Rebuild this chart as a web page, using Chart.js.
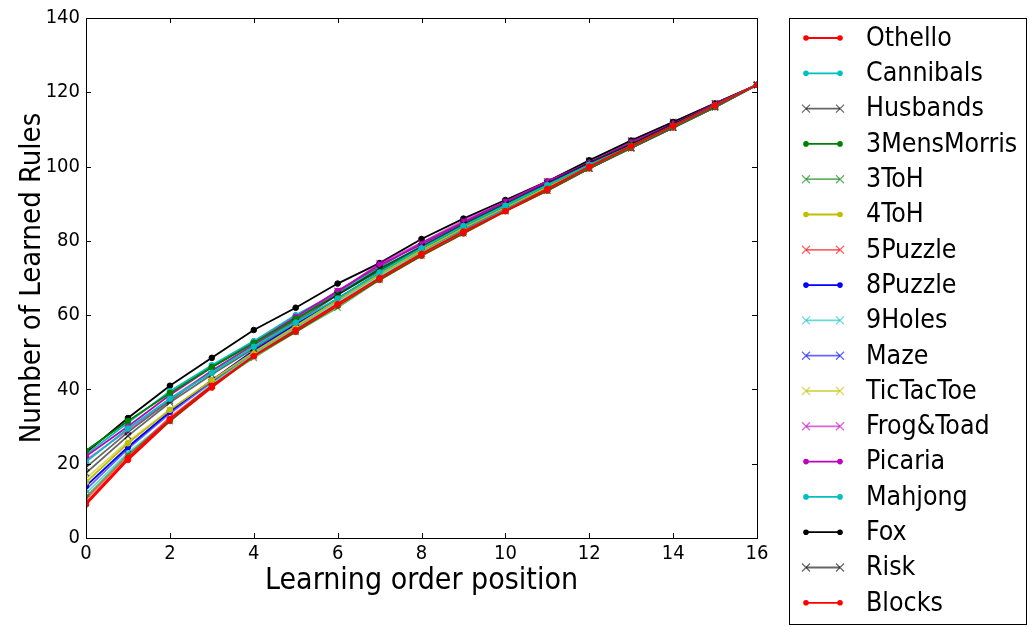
<!DOCTYPE html>
<html>
<head>
<meta charset="utf-8">
<script src="https://cdn.jsdelivr.net/npm/chart.js@4/dist/chart.umd.min.js"></script>
<style>
  html, body { margin: 0; padding: 0; background: #fff; }
  #wrap { width: 1030px; height: 627px; position: relative; }
</style>
</head>
<body>
<div id="wrap"><canvas id="chart" width="1030" height="627"></canvas></div>
<script>
// learning order positions (x axis)
const positions = [0, 1, 2, 3, 4, 5, 6, 7, 8, 9, 10, 11, 12, 13, 14, 15, 16];

// number of learned rules per game
const othello     = [9.5, 21.5, 32, 41, 49, 56, 63, 70, 76.5, 82.5, 88, 94, 100, 105.5, 111, 116.5, 122];
const cannibals   = [20.5, 29.5, 37.5, 44.5, 51.5, 58, 64.5, 71.5, 78, 84, 89.5, 95, 100.5, 105.5, 111, 116.5, 122];
const husbands    = [17.5, 27.5, 36.5, 44, 51, 58, 65.5, 72.5, 78.5, 84.5, 90, 95.5, 101, 106, 111.5, 116.5, 122];
const mensMorris  = [23.5, 31.5, 39, 46, 52.5, 59, 65.5, 72, 78, 84, 89.5, 95, 100.5, 106, 111, 116.5, 122];
const toh3        = [11, 22.5, 31.5, 41, 48.5, 55.5, 62, 69.5, 76, 82, 88, 93.5, 99.5, 105, 110.5, 116, 122];
const toh4        = [15, 25.5, 34.5, 42.5, 50, 57, 64, 71, 77.5, 83.5, 89, 94.5, 100, 105.5, 111, 116.5, 122];
const puzzle5     = [10.5, 22, 32.5, 41, 49, 56, 63, 70, 76.5, 82.5, 88, 93.5, 99.5, 105, 110.5, 116, 122];
const puzzle8     = [14, 24.5, 34, 42.5, 50.5, 57.5, 64.5, 71.5, 78, 83.5, 89, 94.5, 100, 105.5, 111, 116.5, 122];
const holes9      = [12, 23, 32, 41.5, 49.5, 56.5, 63.5, 70.5, 77, 83, 88.5, 94, 99.5, 105, 110.5, 116, 122];
const maze        = [13, 24, 33.5, 42, 50, 57, 64, 71, 77.5, 83, 88.5, 94, 99.5, 105, 110.5, 116, 122];
const ticTacToe   = [16, 26, 34.5, 42, 49.5, 56.5, 63, 70, 77, 83, 88.5, 94, 99.5, 105, 110.5, 116, 122];
const frogToad    = [21, 29, 37.5, 45, 52, 59, 66, 74, 79.5, 85.5, 90.5, 95.5, 101, 106.5, 111.5, 117, 122];
const picaria     = [22, 30, 38.5, 46, 52.5, 59.5, 66.5, 73.5, 79, 85, 90.5, 96, 101, 106.5, 111.5, 116.5, 122];
const mahjong     = [22.5, 31, 39.5, 46.5, 53, 60, 66, 72.5, 78.5, 84.5, 90, 95.5, 101, 106, 111.5, 116.5, 122];
const fox         = [23, 32.3, 41, 48.5, 56, 62, 68.5, 74, 80.5, 86, 91, 96, 101.7, 107, 112, 117, 122];
const risk        = [19, 28.5, 37, 45, 52, 58.5, 66.5, 73, 79.5, 85, 90.5, 96, 101.5, 107, 112, 117, 122];
const blocks      = [9, 21, 31.5, 40.5, 49, 55.5, 62.5, 69.5, 76, 82, 88, 93.5, 99.5, 105, 110.5, 116, 122];

const xTicks = [0, 2, 4, 6, 8, 10, 12, 14, 16];
const yTicks = [0, 20, 40, 60, 80, 100, 120, 140];

// name, values, colour, marker ('o' dot or 'x')
const series = [
  ['Othello', othello, '#ff0000', 'o'],
  ['Cannibals', cannibals, '#00bfbf', 'o'],
  ['Husbands', husbands, '#000000', 'x'],
  ['3MensMorris', mensMorris, '#008000', 'o'],
  ['3ToH', toh3, '#008000', 'x'],
  ['4ToH', toh4, '#bfbf00', 'o'],
  ['5Puzzle', puzzle5, '#ff0000', 'x'],
  ['8Puzzle', puzzle8, '#0000ff', 'o'],
  ['9Holes', holes9, '#00bfbf', 'x'],
  ['Maze', maze, '#0000ff', 'x'],
  ['TicTacToe', ticTacToe, '#bfbf00', 'x'],
  ['Frog&Toad', frogToad, '#bf00bf', 'x'],
  ['Picaria', picaria, '#bf00bf', 'o'],
  ['Mahjong', mahjong, '#00bfbf', 'o'],
  ['Fox', fox, '#000000', 'o'],
  ['Risk', risk, '#000000', 'x'],
  ['Blocks', blocks, '#ff0000', 'o']
];

const FONT = '"DejaVu Sans Condensed", "DejaVu Sans"';

function withAlpha(hex, a) {
  const r = parseInt(hex.slice(1, 3), 16), g = parseInt(hex.slice(3, 5), 16), b = parseInt(hex.slice(5, 7), 16);
  return 'rgba(' + r + ',' + g + ',' + b + ',' + a + ')';
}

const datasets = series.map(([name, vals, col, mk]) => {
  const c = mk === 'x' ? withAlpha(col, 0.6) : col;
  return {
    label: name,
    data: vals.map((v, i) => ({ x: positions[i], y: v })),
    borderColor: c,
    backgroundColor: c,
    borderWidth: 1.8,
    pointStyle: mk === 'x' ? 'crossRot' : 'circle',
    pointRadius: mk === 'x' ? 4.5 : 2.8,
    pointBorderWidth: mk === 'x' ? 1.3 : 1,
    pointBorderColor: c,
    pointBackgroundColor: c,
    tension: 0,
    fill: false
  };
});

// matplotlib-ish frame: box plus inward ticks on all four sides
const framePlugin = {
  id: 'frame',
  afterDatasetsDraw(chart) {
    const { ctx, chartArea: a, scales } = chart;
    ctx.save();
    ctx.strokeStyle = '#000';
    ctx.lineWidth = 1;
    ctx.strokeRect(a.left + 0.5, a.top + 0.5, a.right - a.left, a.bottom - a.top);
    ctx.beginPath();
    xTicks.forEach(t => {
      const px = Math.round(scales.x.getPixelForValue(t)) + 0.5;
      ctx.moveTo(px, a.bottom); ctx.lineTo(px, a.bottom - 5);
      ctx.moveTo(px, a.top); ctx.lineTo(px, a.top + 5);
    });
    yTicks.forEach(t => {
      const py = Math.round(scales.y.getPixelForValue(t)) + 0.5;
      ctx.moveTo(a.left, py); ctx.lineTo(a.left + 5, py);
      ctx.moveTo(a.right, py); ctx.lineTo(a.right - 5, py);
    });
    ctx.stroke();
    ctx.restore();
  }
};

// legend box on the right, drawn from the datasets
const boxLegend = {
  id: 'boxLegend',
  afterDraw(chart) {
    const ctx = chart.ctx;
    ctx.save();
    ctx.strokeStyle = '#000';
    ctx.lineWidth = 1;
    ctx.strokeRect(789.5, 18.5, 237, 606);
    ctx.font = '26.5px ' + FONT;
    ctx.textBaseline = 'middle';
    chart.data.datasets.forEach((ds, i) => {
      const y = 38 + i * 35.3;
      ctx.strokeStyle = ds.borderColor;
      ctx.fillStyle = ds.borderColor;
      ctx.lineWidth = 1.8;
      ctx.beginPath(); ctx.moveTo(806, y); ctx.lineTo(840, y); ctx.stroke();
      [806, 840].forEach(px => {
        if (ds.pointStyle === 'crossRot') {
          ctx.lineWidth = 1.3;
          ctx.beginPath();
          ctx.moveTo(px - 4, y - 4); ctx.lineTo(px + 4, y + 4);
          ctx.moveTo(px - 4, y + 4); ctx.lineTo(px + 4, y - 4);
          ctx.stroke();
        } else {
          ctx.beginPath(); ctx.arc(px, y, 2.8, 0, Math.PI * 2); ctx.fill();
        }
      });
      ctx.fillStyle = '#000';
      ctx.fillText(ds.label, 866, y + 1);
    });
    ctx.restore();
  }
};

new Chart(document.getElementById('chart'), {
  type: 'line',
  data: { datasets },
  options: {
    responsive: false,
    animation: false,
    layout: { padding: { left: 0, right: 273, top: 18, bottom: 0 } },
    plugins: { legend: { display: false }, tooltip: { enabled: false } },
    scales: {
      x: {
        type: 'linear',
        min: 0, max: 16,
        afterFit(s) { s.height = 89; },
        afterBuildTicks(s) { s.ticks = xTicks.map(v => ({ value: v })); },
        grid: { display: false, drawTicks: false },
        border: { display: false },
        ticks: { color: '#000', font: { family: FONT, size: 20 }, padding: 4, maxRotation: 0 },
        title: { display: true, text: 'Learning order position', color: '#000',
                 font: { family: FONT, size: 30 }, padding: { top: 28, bottom: 28 } }
      },
      y: {
        min: 0, max: 140,
        afterFit(s) { s.width = 86; },
        afterBuildTicks(s) { s.ticks = yTicks.map(v => ({ value: v })); },
        grid: { display: false, drawTicks: false },
        border: { display: false },
        ticks: { color: '#000', font: { family: FONT, size: 20 }, padding: 6 },
        title: { display: true, text: 'Number of Learned Rules', color: '#000',
                 font: { family: FONT, size: 29 }, padding: { top: 15, bottom: 15 } }
      }
    }
  },
  plugins: [framePlugin, boxLegend]
});
</script>
</body>
</html>
